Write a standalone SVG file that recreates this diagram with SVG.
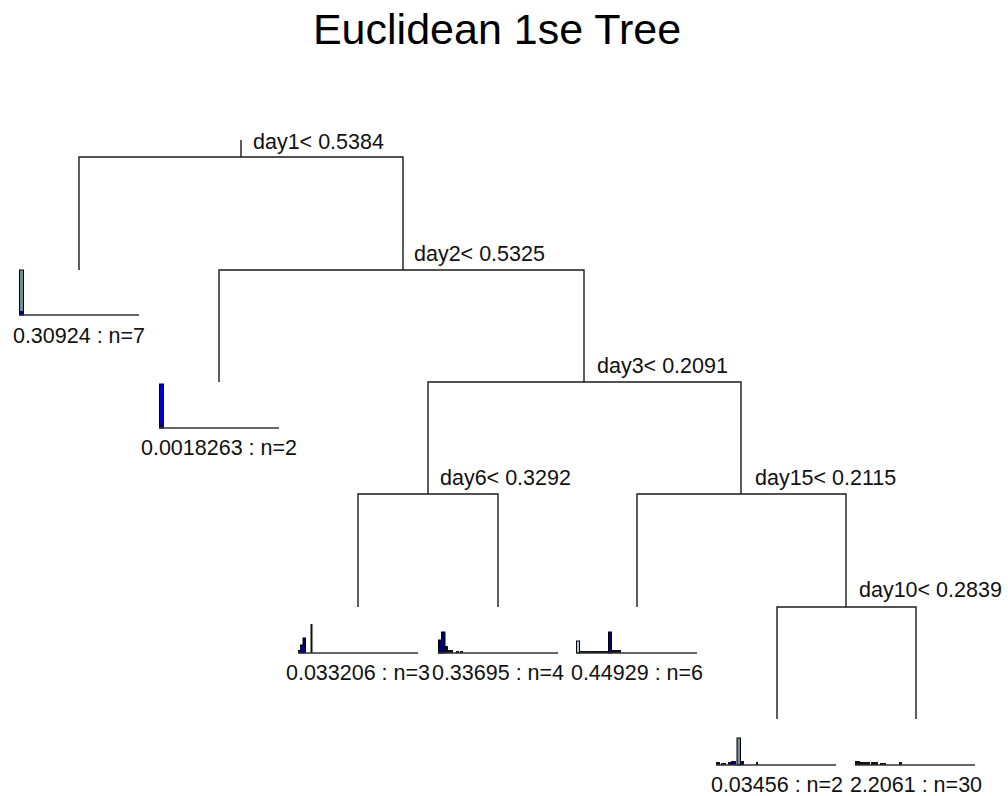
<svg xmlns="http://www.w3.org/2000/svg" width="1008" height="796" viewBox="0 0 1008 796">
  <style>
    .edge { fill: none; stroke: #1a1a1a; stroke-width: 1.4; }
    .axis { fill: none; stroke: #333; stroke-width: 1.4; }
    .split { font-family: "Liberation Sans", Arial, sans-serif; font-size: 21.5px; fill: #111; }
    .leaf { font-family: "Liberation Sans", Arial, sans-serif; font-size: 21.5px; fill: #111; text-anchor: middle; }
    .title { font-family: "Liberation Sans", Arial, sans-serif; font-size: 43px; fill: #000; text-anchor: middle; }
    .bar { stroke: #000; stroke-width: 1; }
    .gray { fill: #6f8f99; }
    .light { fill: #a9d3df; }
    .blue { fill: #0000d0; }
    .navy { fill: #000070; }
    .dark { fill: #111; }
  </style>
  <rect width="1008" height="796" fill="#fff"/>

  <text class="title" x="497" y="44">Euclidean 1se Tree</text>

  <!-- tree branches -->
  <g id="connectors">
    <path class="edge" d="M241 140 V157 M79 270 V157 H403 V270"/>
    <path class="edge" d="M219 382 V270 H584 V382"/>
    <path class="edge" d="M428 494 V382 H741 V494"/>
    <path class="edge" d="M358 607 V494 H498 V607"/>
    <path class="edge" d="M637 607 V494 H846 V607"/>
    <path class="edge" d="M777 719 V607 H916 V719"/>
  </g>

  <!-- split labels -->
  <g id="split-day1"><text class="split" x="253" y="149">day1&lt; 0.5384</text></g>
  <g id="split-day2"><text class="split" x="414" y="261">day2&lt; 0.5325</text></g>
  <g id="split-day3"><text class="split" x="597" y="373">day3&lt; 0.2091</text></g>
  <g id="split-day6"><text class="split" x="440" y="485">day6&lt; 0.3292</text></g>
  <g id="split-day15"><text class="split" x="755" y="485">day15&lt; 0.2115</text></g>
  <g id="split-day10"><text class="split" x="859" y="597">day10&lt; 0.2839</text></g>

  <!-- leaf 1 -->
  <g id="leaf1">
    <rect class="bar gray" x="19.5" y="270" width="4" height="45"/>
    <rect class="navy" x="20" y="311" width="3" height="4"/>
    <path class="axis" d="M19 315 H139"/>
    <text class="leaf" x="79" y="343">0.30924 : n=7</text>
  </g>

  <!-- leaf 2 -->
  <g id="leaf2">
    <rect class="bar blue" x="159.5" y="384" width="4" height="44"/>
    <rect class="dark" x="159" y="424" width="2" height="4"/>
    <path class="axis" d="M159 428 H279"/>
    <text class="leaf" x="219" y="455">0.0018263 : n=2</text>
  </g>

  <!-- leaf 3 -->
  <g id="leaf3">
    <rect class="dark" x="298" y="650" width="3" height="3"/>
    <rect class="bar navy" x="303" y="638" width="2.5" height="15"/>
    <rect class="bar blue" x="300.5" y="645" width="3" height="8"/>
    <rect class="dark" x="310.5" y="624" width="2" height="29"/>
    <path class="axis" d="M298 653 H418"/>
    <text class="leaf" x="358" y="680">0.033206 : n=3</text>
  </g>

  <!-- leaf 4 -->
  <g id="leaf4">
    <rect class="bar navy" x="438.5" y="640" width="3" height="13"/>
    <rect class="bar navy" x="441.5" y="632" width="3.5" height="21"/>
    <rect class="dark" x="445" y="646" width="3" height="7"/>
    <rect class="dark" x="448" y="650" width="5" height="3"/>
    <rect class="dark" x="456" y="651" width="3" height="2"/>
    <rect class="dark" x="460" y="651" width="3" height="2"/>
    <path class="axis" d="M438 653 H558"/>
    <text class="leaf" x="498" y="680">0.33695 : n=4</text>
  </g>

  <!-- leaf 5 -->
  <g id="leaf5">
    <rect class="bar light" x="576.5" y="641" width="3" height="12"/>
    <rect class="dark" x="580" y="651" width="28" height="2"/>
    <rect class="bar navy" x="608.5" y="632" width="3" height="21"/>
    <rect class="dark" x="612" y="650" width="9" height="3"/>
    <path class="axis" d="M577 653 H697"/>
    <text class="leaf" x="637" y="680">0.44929 : n=6</text>
  </g>

  <!-- leaf 6 -->
  <g id="leaf6">
    <rect class="dark" x="716" y="762" width="4" height="3"/>
    <rect class="dark" x="721" y="763" width="5" height="2"/>
    <rect class="dark" x="728" y="762" width="3" height="3"/>
    <rect class="navy" x="731" y="761" width="5" height="4"/>
    <rect class="bar gray" x="737" y="738" width="3.5" height="27"/>
    <rect class="navy" x="741" y="761" width="3" height="4"/>
    <rect class="dark" x="756" y="762" width="2" height="3"/>
    <path class="axis" d="M716 765 H836"/>
    <text class="leaf" x="777" y="792">0.03456 : n=2</text>
  </g>

  <!-- leaf 7 -->
  <g id="leaf7">
    <rect class="dark" x="855" y="761" width="5" height="4"/>
    <rect class="dark" x="860" y="762" width="10" height="3"/>
    <rect class="dark" x="871" y="762" width="7" height="3"/>
    <rect class="dark" x="880" y="763" width="6" height="2"/>
    <rect class="dark" x="899" y="762" width="3" height="3"/>
    <path class="axis" d="M855 765 H975"/>
    <text class="leaf" x="916" y="792">2.2061 : n=30</text>
  </g>
</svg>
